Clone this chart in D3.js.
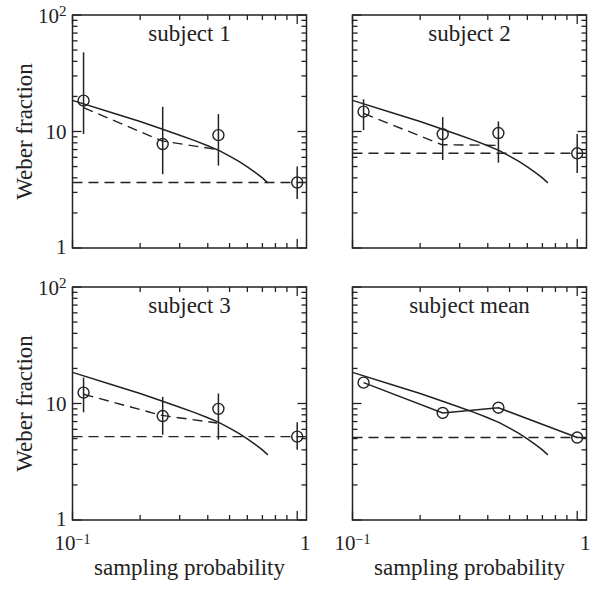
<!DOCTYPE html>
<html><head><meta charset="utf-8">
<script src="https://cdn.jsdelivr.net/npm/d3@7"></script>
<style>body{margin:0;background:#fff}svg{display:block}</style>
</head><body>
<svg id="c" width="600" height="589"></svg>
<script>
// ---- data ----
const panelTitles = ["subject 1", "subject 2", "subject 3", "subject mean"];
const pointP = [0.112, 0.252, 0.446, 1.0];
const s1Val = [18.4, 7.8, 9.3, 3.65];
const s1Lo  = [9.5, 4.3, 5.1, 2.63];
const s1Hi  = [47.8, 16.3, 14.1, 5.0];
const s2Val = [14.8, 9.5, 9.7, 6.5];
const s2Lo  = [10.3, 5.7, 5.4, 4.4];
const s2Hi  = [18.9, 13.3, 12.2, 9.5];
const s3Val = [12.4, 7.8, 9.0, 5.2];
const s3Lo  = [8.4, 5.4, 4.9, 4.0];
const s3Hi  = [16.7, 11.4, 12.2, 6.9];
const meanVal = [15.1, 8.3, 9.2, 5.1];
const fitP  = [0.112, 0.25, 0.44];
const s1Fit = [16.0, 8.3, 7.0];
const s2Fit = [14.3, 7.7, 7.6];
const s3Fit = [12.0, 7.9, 6.8];
const flatLevel = [3.65, 6.5, 5.2, 5.1];
const modelP = [0.1, 0.15, 0.2, 0.25, 0.3, 0.35, 0.4, 0.45, 0.5, 0.55, 0.6, 0.65, 0.7, 0.74];
const modelV = [18.5, 14.5, 12.2, 10.5, 9.3, 8.35, 7.55, 6.85, 6.15, 5.55, 4.97, 4.46, 4.0, 3.62];
const xMajor = [0.1, 1];
const xMinor = [0.2, 0.3, 0.4, 0.5, 0.6, 0.7, 0.8, 0.9];
const yMajor = [1, 10, 100];
const yMinor = [2, 3, 4, 5, 6, 7, 8, 9, 20, 30, 40, 50, 60, 70, 80, 90];
const xDomain = [0.1, 1.1];
const yDomain = [1, 100];

// ---- layout ----
const colLeft = [72.5, 352.5], rowTop = [15, 287];
const W = 234, H = 233;
const FONT = "'Liberation Serif', 'Times New Roman', serif";
const svg = d3.select("#c");

const panels = [
  {val: s1Val, lo: s1Lo, hi: s1Hi, fit: s1Fit},
  {val: s2Val, lo: s2Lo, hi: s2Hi, fit: s2Fit},
  {val: s3Val, lo: s3Lo, hi: s3Hi, fit: s3Fit},
  {val: meanVal, lo: null, hi: null, fit: null}
];

panels.forEach((pd, i) => {
  const col = i % 2, row = Math.floor(i / 2);
  const g = svg.append("g").attr("transform", `translate(${colLeft[col]},${rowTop[row]})`);
  const x = d3.scaleLog().domain(xDomain).range([0, W]);
  const y = d3.scaleLog().domain(yDomain).range([H, 0]);
  const line = d3.line().x(d => x(d[0])).y(d => y(d[1]));

  // frame
  g.append("rect").attr("width", W).attr("height", H)
    .attr("fill", "none").attr("stroke", "#222").attr("stroke-width", 1.5);

  const tk = g.append("g").attr("stroke", "#222").attr("stroke-width", 1.3);
  const maj = 9, mnr = 5;
  [[xMajor, maj], [xMinor, mnr]].forEach(([arr, len]) => {
    arr.forEach(v => {
      tk.append("line").attr("x1", x(v)).attr("x2", x(v)).attr("y1", H).attr("y2", H - len);
      tk.append("line").attr("x1", x(v)).attr("x2", x(v)).attr("y1", 0).attr("y2", len);
    });
  });
  [[yMajor, maj], [yMinor, mnr]].forEach(([arr, len]) => {
    arr.forEach(v => {
      tk.append("line").attr("y1", y(v)).attr("y2", y(v)).attr("x1", 0).attr("x2", len);
      tk.append("line").attr("y1", y(v)).attr("y2", y(v)).attr("x1", W).attr("x2", W - len);
    });
  });

  if (col === 0) {
    yMajor.forEach(v => {
      const t = g.append("text").attr("x", -6).attr("y", y(v)).attr("dy", v === 1 ? "0.3em" : "0.36em")
        .attr("text-anchor", "end").attr("font-family", FONT).attr("font-size", 21).attr("fill", "#222");
      if (v === 100) {
        t.append("tspan").text("10");
        t.append("tspan").attr("dy", "-0.45em").attr("font-size", 15).text("2");
      } else {
        t.text(String(v));
      }
    });
    g.append("text").attr("transform", `translate(-41,${H / 2}) rotate(-90)`)
      .attr("text-anchor", "middle").attr("font-family", FONT).attr("font-size", 23).attr("fill", "#222")
      .text("Weber fraction");
  }
  if (row === 1) {
    const t = g.append("text").attr("x", x(0.1)).attr("y", H + 30)
      .attr("text-anchor", "middle").attr("font-family", FONT).attr("font-size", 21).attr("fill", "#222");
    t.append("tspan").text("10");
    t.append("tspan").attr("dy", "-0.4em").attr("font-size", 14).text("\u22121");
    g.append("text").attr("x", x(1) + 8).attr("y", H + 30)
      .attr("text-anchor", "middle").attr("font-family", FONT).attr("font-size", 21).attr("fill", "#222")
      .text("1");
    g.append("text").attr("x", W / 2).attr("y", H + 55)
      .attr("text-anchor", "middle").attr("font-family", FONT).attr("font-size", 23).attr("fill", "#222")
      .text("sampling probability");
  }

  g.append("text").attr("x", W / 2).attr("y", 26)
    .attr("text-anchor", "middle").attr("font-family", FONT).attr("font-size", 23).attr("fill", "#222")
    .text(panelTitles[i]);

  const dash = "10,6";
  g.append("path").attr("d", line([[xDomain[0], flatLevel[i]], [xDomain[1], flatLevel[i]]]))
    .attr("fill", "none").attr("stroke", "#222").attr("stroke-width", 1.4).attr("stroke-dasharray", dash);
  g.append("path").attr("d", line(modelP.map((p, k) => [p, modelV[k]])))
    .attr("fill", "none").attr("stroke", "#222").attr("stroke-width", 1.5);
  if (pd.fit) {
    g.append("path").attr("d", line(fitP.map((p, k) => [p, pd.fit[k]])))
      .attr("fill", "none").attr("stroke", "#222").attr("stroke-width", 1.4).attr("stroke-dasharray", dash);
  } else {
    g.append("path").attr("d", line(pointP.map((p, k) => [p, pd.val[k]])))
      .attr("fill", "none").attr("stroke", "#222").attr("stroke-width", 1.5);
  }
  if (pd.lo) {
    pointP.forEach((p, k) => {
      g.append("line").attr("x1", x(p)).attr("x2", x(p)).attr("y1", y(pd.lo[k])).attr("y2", y(pd.hi[k]))
        .attr("stroke", "#222").attr("stroke-width", 1.5);
    });
  }
  pointP.forEach((p, k) => {
    g.append("circle").attr("cx", x(p)).attr("cy", y(pd.val[k])).attr("r", 5.5)
      .attr("fill", "none").attr("stroke", "#222").attr("stroke-width", 1.4);
  });
});
</script>
</body></html>
